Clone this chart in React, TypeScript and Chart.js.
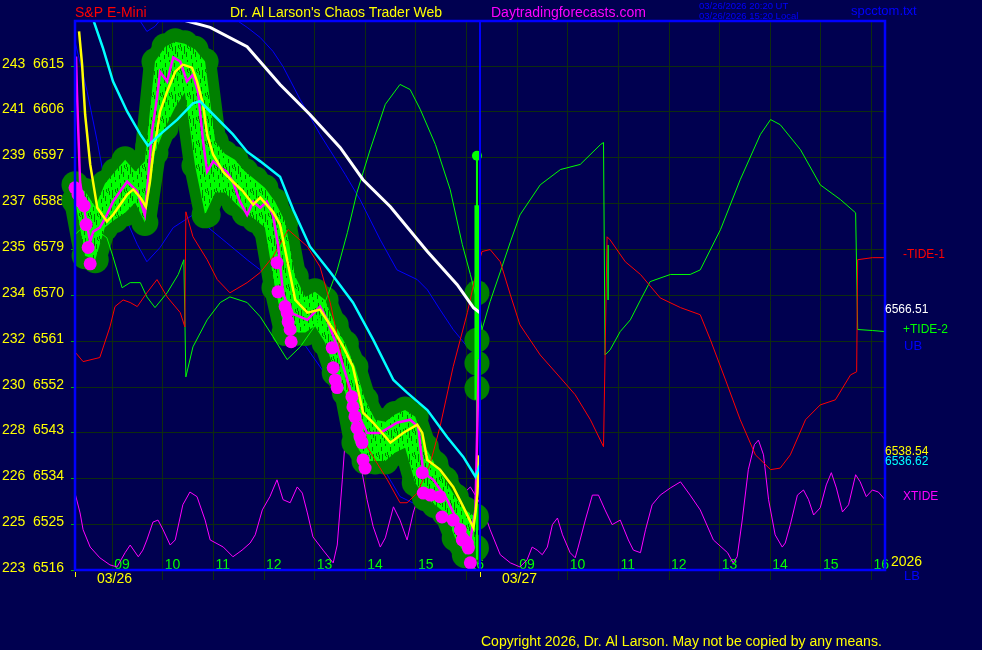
import React, { useEffect, useRef } from 'react';
import { Chart, registerables } from 'chart.js';
Chart.register(...registerables);

// ---------- axes / labels ----------
const priceTicks = [6615, 6606, 6597, 6588, 6579, 6570, 6561, 6552, 6543, 6534, 6525, 6516];
const leftTickLabels = [243, 241, 239, 237, 235, 234, 232, 230, 228, 226, 225, 223];
const hourGridTimes = [0.725, 1.725, 2.725, 3.725, 4.725, 5.725, 6.725, 7.725, 8.725, 9.725, 10.725, 11.725, 12.725, 13.725, 14.725, 15.725];
const hourLabels = ['09', '10', '11', '12', '13', '14', '15', '16', '09', '10', '11', '12', '13', '14', '15', '16'];
const dayStarts = [0, 8];
const dateLabels = ['03/26', '03/27'];

// ---------- series ----------
const whiteT = [2.04, 2.67, 3.40, 4.05, 4.64, 5.24, 5.69, 6.23, 6.96, 7.55, 7.87, 8.00];
const whiteV = [6624.2, 6622.5, 6618.7, 6611.3, 6605.4, 6598.9, 6592.6, 6587.3, 6578.5, 6572.0, 6567.5, 6566.5];

const cyanT = [0.36, 0.55, 0.75, 1.03, 1.29, 1.44, 1.68, 2.02, 2.33, 2.47, 2.73, 3.12, 3.40, 3.66, 4.05, 4.31, 4.64, 5.04, 5.49, 5.89, 6.29, 6.56, 6.96, 7.35, 7.67, 7.91, 8.00];
const cyanV = [6624.0, 6618.5, 6611.9, 6606.0, 6601.5, 6599.3, 6601.5, 6604.4, 6607.6, 6608.0, 6605.4, 6601.5, 6598.1, 6596.2, 6593.2, 6586.7, 6579.5, 6574.5, 6568.5, 6561.2, 6553.3, 6550.8, 6547.4, 6542.1, 6538.2, 6534.3, 6536.6];

const yellowT = [0.08, 0.14, 0.20, 0.30, 0.44, 0.63, 0.75, 0.89, 1.03, 1.15, 1.29, 1.40, 1.48, 1.54, 1.62, 1.68, 1.82, 1.98, 2.13, 2.31, 2.41, 2.53, 2.61, 2.73, 2.93, 3.12, 3.32, 3.52, 3.66, 3.91, 4.05, 4.19, 4.35, 4.59, 4.84, 5.10, 5.30, 5.49, 5.69, 5.89, 6.23, 6.48, 6.76, 6.86, 6.96, 7.21, 7.47, 7.67, 7.87, 7.91, 7.95, 7.98];
const yellowV = [6621.7, 6615.2, 6605.4, 6595.6, 6587.1, 6584.4, 6585.7, 6587.7, 6589.7, 6590.7, 6589.1, 6587.3, 6592.2, 6597.5, 6602.0, 6606.0, 6609.9, 6613.8, 6615.2, 6614.6, 6611.9, 6607.4, 6601.5, 6597.5, 6594.1, 6592.2, 6590.3, 6587.7, 6589.1, 6586.3, 6583.8, 6576.9, 6569.0, 6566.5, 6567.1, 6563.2, 6559.8, 6555.9, 6546.9, 6544.9, 6541.0, 6542.9, 6544.5, 6542.9, 6537.6, 6535.7, 6532.3, 6528.4, 6524.3, 6527.2, 6531.1, 6538.5];

const closeT = [0.02, 0.04, 0.10, 0.20, 0.30, 0.36, 0.49, 0.63, 0.75, 0.89, 1.03, 1.23, 1.38, 1.44, 1.52, 1.62, 1.68, 1.82, 1.94, 2.08, 2.21, 2.33, 2.43, 2.53, 2.61, 2.73, 2.87, 3.00, 3.12, 3.26, 3.40, 3.52, 3.66, 3.79, 3.91, 4.01, 4.11, 4.25, 4.59, 4.84, 4.98, 5.18, 5.38, 5.57, 5.77, 6.03, 6.36, 6.62, 6.78, 6.88, 7.08, 7.35, 7.61, 7.81, 7.91, 7.96, 7.98];
const closeV = [6616.8, 6609.3, 6592.2, 6585.7, 6580.4, 6582.4, 6583.2, 6585.7, 6588.3, 6590.3, 6592.2, 6590.3, 6585.7, 6592.2, 6602.0, 6608.7, 6613.8, 6611.9, 6616.6, 6615.8, 6611.9, 6613.2, 6609.9, 6600.1, 6594.2, 6596.2, 6595.0, 6594.2, 6592.2, 6588.3, 6585.7, 6588.3, 6587.1, 6588.3, 6585.7, 6579.9, 6570.4, 6566.5, 6565.1, 6567.7, 6565.1, 6559.8, 6553.3, 6546.9, 6542.9, 6542.9, 6544.9, 6545.5, 6544.1, 6535.1, 6533.7, 6529.8, 6524.5, 6521.9, 6527.8, 6550.0, 6557.3];

const dotT = [0.00, 0.06, 0.12, 0.18, 0.22, 0.26, 0.30, 3.99, 4.01, 4.15, 4.19, 4.21, 4.25, 4.27, 5.08, 5.10, 5.14, 5.18, 5.47, 5.49, 5.53, 5.57, 5.63, 5.67, 5.69, 5.73, 6.86, 6.88, 7.02, 7.21, 7.25, 7.47, 7.61, 7.65, 7.75, 7.77, 7.81];
const dotV = [6591.0, 6589.7, 6588.3, 6587.5, 6583.8, 6579.3, 6576.1, 6576.3, 6570.6, 6567.7, 6566.5, 6564.7, 6563.2, 6560.8, 6559.6, 6555.7, 6553.3, 6551.8, 6550.0, 6548.0, 6546.1, 6543.9, 6542.1, 6541.0, 6537.6, 6536.0, 6535.1, 6531.1, 6530.7, 6530.4, 6526.4, 6525.8, 6523.9, 6521.9, 6521.3, 6520.3, 6517.4];

const barT = [0.00, 0.20, 0.40, 0.59, 0.79, 0.99, 1.19, 1.38, 1.58, 1.78, 1.98, 2.17, 2.37, 2.57, 2.77, 2.96, 3.16, 3.36, 3.56, 3.75, 3.95, 4.15, 4.35, 4.55, 4.74, 4.94, 5.14, 5.34, 5.53, 5.73, 5.93, 6.13, 6.32, 6.52, 6.72, 6.92, 7.11, 7.31, 7.51, 7.71, 7.91];
const barHigh = [6591.6, 6590.3, 6587.3, 6591.8, 6594.2, 6596.5, 6594.2, 6596.2, 6615.8, 6618.7, 6619.7, 6619.3, 6618.2, 6615.8, 6600.1, 6597.7, 6596.5, 6594.2, 6592.6, 6591.0, 6588.3, 6584.4, 6573.6, 6569.6, 6570.6, 6569.0, 6564.1, 6560.4, 6555.9, 6549.4, 6545.5, 6545.1, 6546.5, 6547.4, 6546.1, 6540.2, 6536.8, 6533.7, 6530.4, 6527.8, 6526.4];
const barLow = [6588.5, 6577.7, 6576.9, 6583.2, 6584.8, 6586.1, 6588.1, 6584.2, 6597.9, 6602.8, 6606.8, 6609.7, 6595.4, 6585.7, 6590.1, 6590.1, 6588.1, 6586.1, 6584.8, 6583.2, 6571.4, 6562.6, 6562.6, 6562.6, 6563.9, 6560.6, 6554.7, 6550.8, 6541.0, 6537.4, 6537.4, 6537.4, 6539.0, 6540.0, 6533.1, 6530.2, 6528.8, 6527.2, 6522.3, 6519.0, 6520.3];

const extraCircleT = [1.44, 2.63, 7.94, 7.94, 7.94, 7.94];
const extraCircleV = [6599.2, 6585.7, 6570.4, 6561.1, 6556.6, 6551.7];

const lastBarT = [7.94, 7.94];
const lastBarV = [6549.4, 6587.6];
const lastLineT = [7.94, 7.94];
const lastLineV = [6597.3, 6518.0];

const tide1T = [0.00, 0.16, 0.49, 0.69, 0.79, 0.95, 1.09, 1.23, 1.42, 1.62, 1.82, 2.08, 2.17, 2.19, 2.33, 2.61, 2.81, 3.06, 3.40, 3.66, 3.91, 4.21, 4.59, 4.84, 5.04, 5.24, 5.43, 5.69, 5.89, 6.17, 6.42, 6.56, 6.76, 7.02, 7.21, 7.47, 7.75, 7.95, 8.04, 8.20, 8.40, 8.60, 8.79, 9.19, 9.59, 9.88, 10.18, 10.44, 10.51, 10.57, 10.87, 11.17, 11.56, 11.96, 12.35, 12.55, 12.85, 13.14, 13.44, 13.74, 13.93, 14.13, 14.43, 14.72, 15.02, 15.32, 15.44, 15.46, 15.75, 16.00];
const tide1V = [6558.8, 6556.9, 6557.7, 6563.7, 6567.7, 6569.0, 6568.5, 6567.7, 6570.4, 6573.0, 6569.6, 6566.5, 6563.7, 6586.3, 6581.4, 6576.9, 6573.0, 6570.4, 6572.4, 6574.4, 6577.5, 6582.8, 6579.5, 6575.5, 6568.5, 6559.2, 6550.0, 6541.5, 6538.2, 6533.7, 6529.2, 6529.2, 6531.1, 6537.0, 6544.1, 6555.9, 6566.5, 6575.5, 6578.5, 6578.9, 6576.5, 6570.0, 6564.1, 6558.2, 6553.7, 6550.4, 6545.5, 6540.2, 6581.4, 6580.8, 6576.5, 6574.0, 6569.4, 6567.5, 6566.1, 6561.2, 6553.3, 6545.5, 6538.6, 6535.7, 6536.0, 6538.6, 6545.5, 6548.4, 6549.4, 6554.3, 6554.9, 6576.9, 6577.3, 6577.3];

const tide2T = [0.00, 0.10, 0.36, 0.63, 0.75, 0.93, 1.09, 1.29, 1.42, 1.58, 1.82, 2.04, 2.15, 2.19, 2.33, 2.61, 2.87, 3.06, 3.40, 3.66, 3.91, 4.19, 4.45, 4.78, 4.98, 5.18, 5.38, 5.57, 5.83, 6.13, 6.42, 6.62, 6.82, 7.12, 7.41, 7.65, 7.81, 7.96, 8.04, 8.20, 8.40, 8.60, 8.79, 9.19, 9.59, 9.98, 10.38, 10.44, 10.47, 10.57, 10.77, 10.97, 11.17, 11.36, 11.76, 12.15, 12.35, 12.75, 13.14, 13.54, 13.74, 13.93, 14.33, 14.72, 15.12, 15.42, 15.46, 15.75, 16.00];
const tide2V = [6581.8, 6582.8, 6583.2, 6581.2, 6577.5, 6571.4, 6572.4, 6572.4, 6569.6, 6567.5, 6570.4, 6574.0, 6576.9, 6553.9, 6559.8, 6565.1, 6568.5, 6569.6, 6568.5, 6565.7, 6561.8, 6557.3, 6559.8, 6564.5, 6569.6, 6574.9, 6582.2, 6590.1, 6598.5, 6607.4, 6611.3, 6610.3, 6606.4, 6599.5, 6590.7, 6579.9, 6574.0, 6568.1, 6563.2, 6568.7, 6574.5, 6580.4, 6585.7, 6591.6, 6594.6, 6595.6, 6599.5, 6599.9, 6558.2, 6559.2, 6562.8, 6565.1, 6569.0, 6572.6, 6574.0, 6574.0, 6574.9, 6582.8, 6592.6, 6601.5, 6604.4, 6603.4, 6598.5, 6591.6, 6588.7, 6586.1, 6563.2, 6563.0, 6562.8];
const tide2SpikeT = [10.53, 10.53];
const tide2SpikeV = [6579.8, 6569.0];

const ubT = [0.99, 1.29, 1.42, 1.58, 1.72, 2.47, 3.12, 3.40, 3.66, 3.91, 4.11, 4.45, 4.84, 5.34, 5.63, 6.03, 6.36, 6.76, 6.96, 7.21, 7.47, 7.75, 7.96];
const ubV = [6626.4, 6623.7, 6621.7, 6622.7, 6624.4, 6626.4, 6624.4, 6622.5, 6620.5, 6617.8, 6614.8, 6608.3, 6601.5, 6593.6, 6588.7, 6580.8, 6574.9, 6573.0, 6571.0, 6567.1, 6563.2, 6559.8, 6557.9];
const lbT = [0.00, 0.24, 0.44, 0.55, 0.75, 1.03, 1.23, 1.42, 1.68, 1.94, 2.33, 2.61, 3.00, 3.40, 3.66, 3.91, 4.31, 4.51, 4.84, 5.24, 5.63, 6.03, 6.42, 6.96, 7.35, 7.75, 7.87];
const lbV = [6619.7, 6609.9, 6600.1, 6594.2, 6589.1, 6584.4, 6579.9, 6576.5, 6579.3, 6583.2, 6585.7, 6583.4, 6580.2, 6576.9, 6574.9, 6571.6, 6565.1, 6560.6, 6555.9, 6550.0, 6543.5, 6537.0, 6530.4, 6527.8, 6524.5, 6519.9, 6516.6];

const xtideT = [0.00, 0.10, 0.16, 0.30, 0.49, 0.69, 0.83, 0.99, 1.09, 1.25, 1.34, 1.42, 1.54, 1.64, 1.74, 1.88, 1.98, 2.13, 2.27, 2.41, 2.57, 2.67, 2.93, 3.12, 3.30, 3.46, 3.56, 3.70, 3.85, 3.99, 4.11, 4.25, 4.39, 4.49, 4.59, 4.70, 4.90, 5.10, 5.18, 5.28, 5.38, 5.46, 5.55, 5.65, 5.77, 5.89, 6.03, 6.13, 6.29, 6.42, 6.56, 6.68, 6.82, 7.02, 7.21, 7.41, 7.61, 7.81, 7.96,
  8.10, 8.20, 8.40, 8.60, 8.79, 8.93, 9.03, 9.13, 9.23, 9.33, 9.43, 9.53, 9.63, 9.78, 9.88, 9.94, 10.08, 10.22, 10.34, 10.47, 10.61, 10.77, 10.93, 11.03, 11.17, 11.27, 11.40, 11.56, 11.76, 11.96, 12.15, 12.35, 12.61, 12.89, 13.00, 13.08, 13.18, 13.30, 13.42, 13.50, 13.60, 13.70, 13.83, 13.97, 14.03, 14.13, 14.27, 14.39, 14.49, 14.59, 14.72, 14.84, 14.94, 15.04, 15.16, 15.28, 15.42, 15.51, 15.63, 15.75, 15.87, 16.00];
const xtideV = [6531.1, 6527.2, 6523.9, 6520.5, 6518.4, 6517.0, 6516.6, 6519.4, 6520.9, 6518.6, 6519.9, 6521.9, 6525.4, 6525.8, 6523.9, 6520.9, 6521.9, 6528.8, 6531.3, 6530.4, 6525.8, 6521.9, 6520.5, 6518.6, 6519.9, 6521.3, 6522.9, 6527.8, 6530.4, 6533.7, 6529.8, 6529.2, 6532.3, 6531.1, 6527.2, 6522.5, 6519.9, 6517.4, 6520.9, 6533.7, 6547.4, 6552.4, 6546.5, 6536.2, 6529.8, 6524.5, 6520.5, 6522.3, 6528.4, 6525.8, 6521.9, 6527.2, 6531.7, 6534.1, 6531.1, 6533.7, 6530.4, 6532.3, 6529.8,
  6526.8, 6523.9, 6519.0, 6517.4, 6516.6, 6518.0, 6520.5, 6519.9, 6519.0, 6520.5, 6524.9, 6526.2, 6522.9, 6519.4, 6518.4, 6520.5, 6525.8, 6530.7, 6530.7, 6527.8, 6524.9, 6525.8, 6521.9, 6519.9, 6519.4, 6523.9, 6528.8, 6530.7, 6532.1, 6533.3, 6530.7, 6527.8, 6521.9, 6519.4, 6517.4, 6518.6, 6525.8, 6535.7, 6540.6, 6541.5, 6538.6, 6529.8, 6522.9, 6520.5, 6521.3, 6524.9, 6530.7, 6531.7, 6529.8, 6526.8, 6528.2, 6532.7, 6535.1, 6532.1, 6527.4, 6528.8, 6534.7, 6533.3, 6530.4, 6531.7, 6531.3, 6529.8];

// ---------- styling ----------
const NAVY = '#000050';
const GRID = '#0e2c0e';
const DARKG = '#008000';
const FONT = '"Liberation Sans", Arial, sans-serif';
// texture of the dense one-minute bars, one string per pixel column (L = bright bar pixel)
const barTextureColumns = [
  'LLLLLLLLLLLLLLLLLLLLdddL',
  'dddLLLLLLLLLLLLLLLLLLLLd',
  'LLLLLLLddddLLLLLLLLLLLLL',
  'LLLLLLLLLLLLLLLddddLLLLL',
  'ddddddLLLLLLLLLLLLLLLLdd',
  'LLLLLLLLLLLLLLLLLLLLLLLL',
  'LLLLdddddLLLLLLLLLLLLLLL',
  'LLLLLLLLLLLLddLLLLLLLddd',
  'dLLLLLLLLLLLLLLLLLLLLLLL',
];

const pts = (xs: number[], ys: number[]) => xs.map((x, i) => ({ x, y: ys[i] }));

const lineDs = (data: any[], color: any, width: number, order: number, extra: any = {}) => ({
  type: 'line', data, borderColor: color, backgroundColor: color, borderWidth: width,
  pointRadius: 0, tension: 0, fill: false, order, ...extra,
});

export default function App() {
  const ref = useRef<HTMLCanvasElement>(null);
  useEffect(() => {
    const canvas = ref.current!;
    const line = (ctx: CanvasRenderingContext2D, x1: number, y1: number, x2: number, y2: number) => {
      ctx.beginPath(); ctx.moveTo(x1, y1); ctx.lineTo(x2, y2); ctx.stroke();
    };
    const pc = document.createElement('canvas');
    pc.width = barTextureColumns.length; pc.height = barTextureColumns[0].length;
    const pctx = pc.getContext('2d')!;
    pctx.fillStyle = DARKG; pctx.fillRect(0, 0, pc.width, pc.height);
    pctx.fillStyle = '#00ff00';
    barTextureColumns.forEach((col, c) => col.split('').forEach((ch, r) => { if (ch === 'L') pctx.fillRect(c, r, 1, 1); }));
    const texture = canvas.getContext('2d')!.createPattern(pc, 'repeat');

    const bg = {
      id: 'bg',
      beforeDraw(c: any) { const ctx = c.ctx; ctx.save(); ctx.fillStyle = NAVY; ctx.fillRect(0, 0, c.width, c.height); ctx.restore(); },
    };
    const grid = {
      id: 'grid',
      beforeDatasetsDraw(c: any) {
        const { ctx, chartArea: a, scales } = c; const x = scales.x; const y = scales.y;
        ctx.save();
        ctx.lineWidth = 1; ctx.strokeStyle = GRID;
        priceTicks.forEach((v) => { const py = Math.round(y.getPixelForValue(v)) + 0.5; line(ctx, a.left, py, a.right, py); });
        hourGridTimes.forEach((h) => { const px = Math.round(x.getPixelForValue(h)) + 0.5; line(ctx, px, a.top, px, a.bottom + 10); });
        ctx.strokeStyle = '#00b000';
        priceTicks.forEach((v) => { const py = Math.round(y.getPixelForValue(v)) + 0.5; line(ctx, a.left - 4, py, a.left, py); });
        ctx.font = '14px ' + FONT; ctx.textBaseline = 'alphabetic'; ctx.textAlign = 'left';
        ctx.fillStyle = '#ffff00';
        priceTicks.forEach((v, i) => { const py = y.getPixelForValue(v) + 2; ctx.fillText(String(leftTickLabels[i]), 2, py); ctx.fillText(String(v), 33, py); });
        ctx.fillStyle = '#00ff00';
        hourGridTimes.forEach((h, i) => ctx.fillText(hourLabels[i], x.getPixelForValue(h) + 2.5, a.bottom - 1));
        ctx.fillStyle = '#ffff00'; ctx.strokeStyle = '#ffff00';
        dayStarts.forEach((d, i) => {
          const px = x.getPixelForValue(d);
          ctx.fillText(dateLabels[i], px + 22, a.bottom + 13);
          line(ctx, Math.round(px) + 0.5, a.bottom + 2, Math.round(px) + 0.5, a.bottom + 7);
        });
        ctx.restore();
      },
    };
    const frame = {
      id: 'frame',
      afterDatasetsDraw(c: any) {
        const { ctx, chartArea: a, scales } = c;
        ctx.save();
        ctx.strokeStyle = '#0000ff'; ctx.lineWidth = 2.5;
        ctx.strokeRect(a.left, a.top, a.right - a.left, a.bottom - a.top);
        ctx.lineWidth = 2;
        const sx = scales.x.getPixelForValue(dayStarts[1]);
        line(ctx, sx, a.top, sx, a.bottom);
        ctx.restore();
      },
      afterDraw(c: any) {
        const ctx = c.ctx;
        ctx.save();
        ctx.textBaseline = 'alphabetic'; ctx.textAlign = 'left';
        const txt = (s: string, x: number, y: number, color: string, size: number) => {
          ctx.font = size + 'px ' + FONT; ctx.fillStyle = color; ctx.fillText(s, x, y);
        };
        txt('S&P E-Mini', 75, 17, '#ff0000', 14);
        txt("Dr. Al Larson's Chaos Trader Web", 230, 17, '#ffff00', 14);
        txt('Daytradingforecasts.com', 491, 17, '#ff00ff', 14);
        txt('03/26/2026 20:20 UT', 699, 9, '#0000ff', 9.5);
        txt('03/26/2026 15:20 Local', 699, 19, '#0000ff', 9.5);
        txt('spcctom.txt', 851, 15, '#0000ff', 13);
        txt('-TIDE-1', 903, 258, '#ff0000', 12);
        txt('6566.51', 885, 313, '#ffffff', 12);
        txt('+TIDE-2', 903, 333, '#00ff00', 12);
        txt('UB', 904, 350, '#0000ff', 13);
        txt('6538.54', 885, 455, '#ffff00', 12);
        txt('6536.62', 885, 465, '#00ffff', 12);
        txt('XTIDE', 903, 500, '#ff00ff', 12);
        txt('2026', 891, 566, '#ffff00', 14);
        txt('LB', 904, 580, '#0000ff', 13);
        txt('Copyright 2026, Dr. Al Larson. May not be copied by any means.', 481, 646, '#ffff00', 14);
        ctx.restore();
      },
    };

    const thick = { borderCapStyle: 'round', borderJoinStyle: 'round', clip: false };
    const circle = { showLine: false, pointRadius: 13.5, pointBorderWidth: 0, pointBackgroundColor: DARKG, clip: false };
    const datasets: any[] = [
      lineDs(pts(xtideT, xtideV), '#ff00ff', 1, 20),
      lineDs(pts(ubT, ubV), '#0000ff', 1, 19),
      lineDs(pts(lbT, lbV), '#0000ff', 1, 19),
      // dark green envelope: round pens along bar highs and lows plus a circle at every high and low
      lineDs(pts(barT, barHigh), DARKG, 22, 18, thick),
      lineDs(pts(barT, barLow), DARKG, 22, 18, thick),
      lineDs([...pts(barT, barHigh), ...pts(barT, barLow)], DARKG, 0, 18, circle),
      lineDs(pts(extraCircleT, extraCircleV), DARKG, 0, 18, { ...circle, pointRadius: 12.5 }),
      // textured interior between highs and lows (index 7 fills to index 8)
      lineDs(pts(barT, barHigh), 'rgba(0,0,0,0)', 0, 17, { fill: '+1', backgroundColor: texture }),
      lineDs(pts(barT, barLow), 'rgba(0,0,0,0)', 0, 17),
      lineDs(pts(tide1T, tide1V), '#ff0000', 1, 16),
      lineDs(pts(tide2T, tide2V), '#00ff00', 1, 16),
      lineDs(pts(tide2SpikeT, tide2SpikeV), '#00ff00', 1.5, 16),
      lineDs(pts(lastBarT, lastBarV), '#00ff00', 5, 14, { borderCapStyle: 'butt' }),
      lineDs(pts(lastLineT, lastLineV), '#00ff00', 2, 14, { pointRadius: [5, 0], pointBorderWidth: 0, pointBackgroundColor: '#00ff00', clip: false }),
      lineDs(pts(dotT, dotV), '#ff00ff', 0, 13, { showLine: false, pointRadius: 6.5, pointBorderWidth: 0, pointBackgroundColor: '#ff00ff', clip: false }),
      lineDs(pts(closeT, closeV), '#ff00ff', 2.5, 12),
      lineDs(pts(yellowT, yellowV), '#ffff00', 2.5, 11),
      lineDs(pts(cyanT, cyanV), '#00ffff', 2.5, 10),
      lineDs(pts(whiteT, whiteV), '#ffffff', 3, 9),
    ];

    const chart = new Chart(canvas, {
      type: 'line',
      data: { datasets },
      options: {
        responsive: false,
        animation: false,
        devicePixelRatio: 1,
        events: [],
        layout: { padding: { left: 75, right: 97, top: 21, bottom: 80 } },
        scales: {
          x: { type: 'linear', min: 0, max: 16, display: false },
          y: { type: 'linear', min: 6516, max: 6623.75, display: false },
        },
        plugins: { legend: { display: false }, tooltip: { enabled: false }, filler: { propagate: false } },
      },
      plugins: [bg, grid, frame],
    } as any);
    return () => chart.destroy();
  }, []);
  return (
    <div style={{ position: 'fixed', left: 0, top: 0, width: 982, height: 650, background: NAVY }}>
      <canvas ref={ref} width={982} height={650} style={{ display: 'block', width: 982, height: 650 }} />
    </div>
  );
}
